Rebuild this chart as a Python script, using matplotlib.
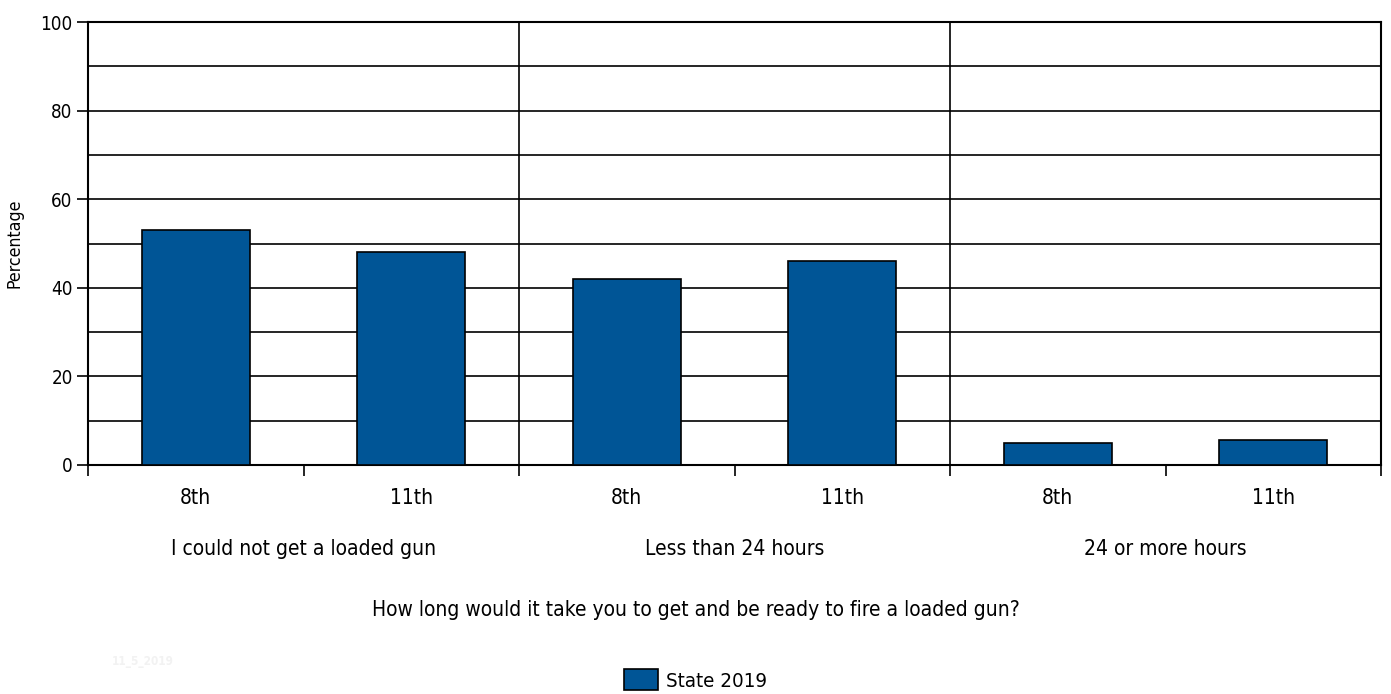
import matplotlib.pyplot as plt
import numpy as np

plt.rcParams['font.family'] = ['DejaVu Sans']
plt.rcParams['font.stretch'] = 'condensed'

groups = ["I could not get a loaded gun", "Less than 24 hours", "24 or more hours"]
grades = ["8th", "11th"]
state_2019 = [53, 48, 42, 46, 4.9, 5.6]
series_label = "State 2019"
bar_color = "#005596"

fig = plt.figure(figsize=(13.91, 6.94), dpi=100)
ax = fig.add_axes([88 / 1391, 1 - 465 / 694, (1381 - 88) / 1391, (465 - 22) / 694])

x = np.arange(len(state_2019)) + 0.5
bars = ax.bar(x, state_2019, width=0.5, color=bar_color, edgecolor="black",
              linewidth=1.2, zorder=3, label=series_label)

ax.set_xlim(0, len(state_2019))
ax.set_ylim(0, 100)

# horizontal grid every 10, labels every 20
for yv in range(10, 100, 10):
    ax.axhline(yv, color="black", linewidth=1.2, zorder=1)
# group dividers
for gx in range(2, len(state_2019), 2):
    ax.axvline(gx, color="black", linewidth=1.2, zorder=1)

ax.set_yticks(range(0, 101, 20))
ax.tick_params(axis="y", labelsize=13.5, length=8, width=1.2, pad=3)
ax.set_xticks(range(0, len(state_2019) + 1))
ax.set_xticklabels([])
ax.tick_params(axis="x", length=8, width=1.2)
for sp in ax.spines.values():
    sp.set_linewidth(1.5)

for i, xv in enumerate(x):
    ax.text(xv, -5.2, grades[i % 2], ha="center", va="top", fontsize=15,
            transform=ax.transData)
for g, name in enumerate(groups):
    ax.text(2 * g + 1, -16.6, name, ha="center", va="top", fontsize=15)

ax.set_ylabel("Percentage", fontsize=12.7, labelpad=12)
fig.text(0.5, 1 - 610 / 694, "How long would it take you to get and be ready to fire a loaded gun?",
         ha="center", va="center", fontsize=15)
fig.text(112 / 1391, 1 - 661 / 694, "11_5_2019", color="#f2f2f2", fontsize=8.5,
         va="center", weight="bold")

fig.legend(handles=[bars], labels=[series_label], loc="center",
           bbox_to_anchor=(0.5, 1 - 680 / 694), frameon=False, fontsize=14.7,
           handlelength=1.7, handleheight=1.15, handletextpad=0.4)

fig.savefig("out.png", dpi=100)
